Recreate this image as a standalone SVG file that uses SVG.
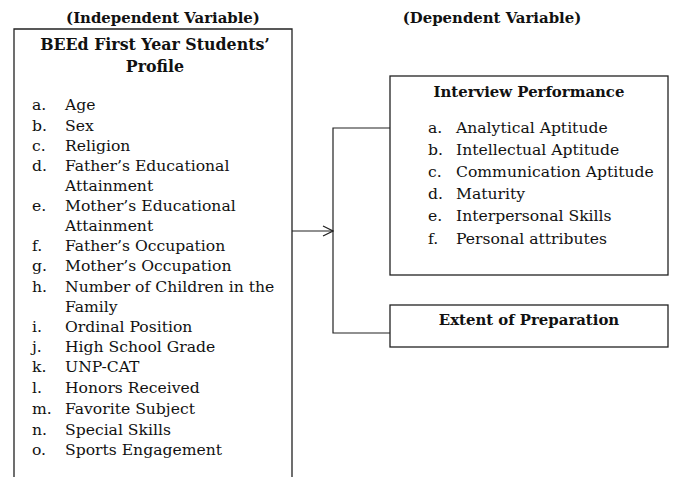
<svg xmlns="http://www.w3.org/2000/svg" width="673" height="477" viewBox="0 0 673 477">
  <defs>
    <style>
      .t { font-family: "DejaVu Serif", "Liberation Serif", serif; font-size: 15.6px; fill: #111; }
      .b { font-family: "DejaVu Serif", "Liberation Serif", serif; font-size: 14.9px; font-weight: bold; fill: #111; }
      .h { font-size: 15.8px; }
      .box { fill: none; stroke: #222; stroke-width: 1.3; }
      .wire { fill: none; stroke: #222; stroke-width: 1.2; }
    </style>
    <marker id="open-arrow" viewBox="0 0 12 12" refX="11" refY="6" markerWidth="12" markerHeight="12" markerUnits="userSpaceOnUse" orient="auto">
      <path d="M1,1 L11,6 L1,11" fill="none" stroke="#222" stroke-width="1.2"/>
    </marker>
  </defs>
  <rect width="673" height="477" fill="#fff"/>

  <text class="b" x="163" y="23" text-anchor="middle">(Independent Variable)</text>
  <text class="b" x="492" y="23" text-anchor="middle">(Dependent Variable)</text>

  <g id="profile">
    <path class="box" d="M14,478 V29 H292 V478" stroke="#444"/>
    <text class="b h" x="155" y="50" text-anchor="middle">BEEd First Year Students’</text>
    <text class="b h" x="155" y="72" text-anchor="middle">Profile</text>
    <g class="t">
      <text x="32" y="110">a.</text><text x="65" y="110">Age</text>
      <text x="32" y="131">b.</text><text x="65" y="131">Sex</text>
      <text x="32" y="151">c.</text><text x="65" y="151">Religion</text>
      <text x="32" y="171">d.</text><text x="65" y="171">Father’s Educational</text>
      <text x="65" y="191">Attainment</text>
      <text x="32" y="211">e.</text><text x="65" y="211">Mother’s Educational</text>
      <text x="65" y="231">Attainment</text>
      <text x="32" y="251">f.</text><text x="65" y="251">Father’s Occupation</text>
      <text x="32" y="271">g.</text><text x="65" y="271">Mother’s Occupation</text>
      <text x="32" y="292">h.</text><text x="65" y="292">Number of Children in the</text>
      <text x="65" y="312">Family</text>
      <text x="32" y="332">i.</text><text x="65" y="332">Ordinal Position</text>
      <text x="32" y="352">j.</text><text x="65" y="352">High School Grade</text>
      <text x="32" y="372">k.</text><text x="65" y="372">UNP-CAT</text>
      <text x="32" y="393">l.</text><text x="65" y="393">Honors Received</text>
      <text x="32" y="414">m.</text><text x="65" y="414">Favorite Subject</text>
      <text x="32" y="435">n.</text><text x="65" y="435">Special Skills</text>
      <text x="32" y="455">o.</text><text x="65" y="455">Sports Engagement</text>
    </g>
  </g>

  <g id="interview">
    <rect class="box" x="390" y="76" width="278" height="199"/>
    <text class="b" x="529" y="97" text-anchor="middle">Interview Performance</text>
    <g class="t">
      <text x="428" y="133">a.</text><text x="456" y="133">Analytical Aptitude</text>
      <text x="428" y="155">b.</text><text x="456" y="155">Intellectual Aptitude</text>
      <text x="428" y="177">c.</text><text x="456" y="177">Communication Aptitude</text>
      <text x="428" y="199">d.</text><text x="456" y="199">Maturity</text>
      <text x="428" y="221">e.</text><text x="456" y="221">Interpersonal Skills</text>
      <text x="428" y="244">f.</text><text x="456" y="244">Personal attributes</text>
    </g>
  </g>

  <g id="preparation">
    <rect class="box" x="390" y="305" width="278" height="42"/>
    <text class="b" x="529" y="325" text-anchor="middle">Extent of Preparation</text>
  </g>

  <g id="connectors">
    <line class="wire" x1="292" y1="231" x2="333" y2="231" marker-end="url(#open-arrow)"/>
    <path class="wire" d="M390,128 H333 V333 H390"/>
  </g>
</svg>
